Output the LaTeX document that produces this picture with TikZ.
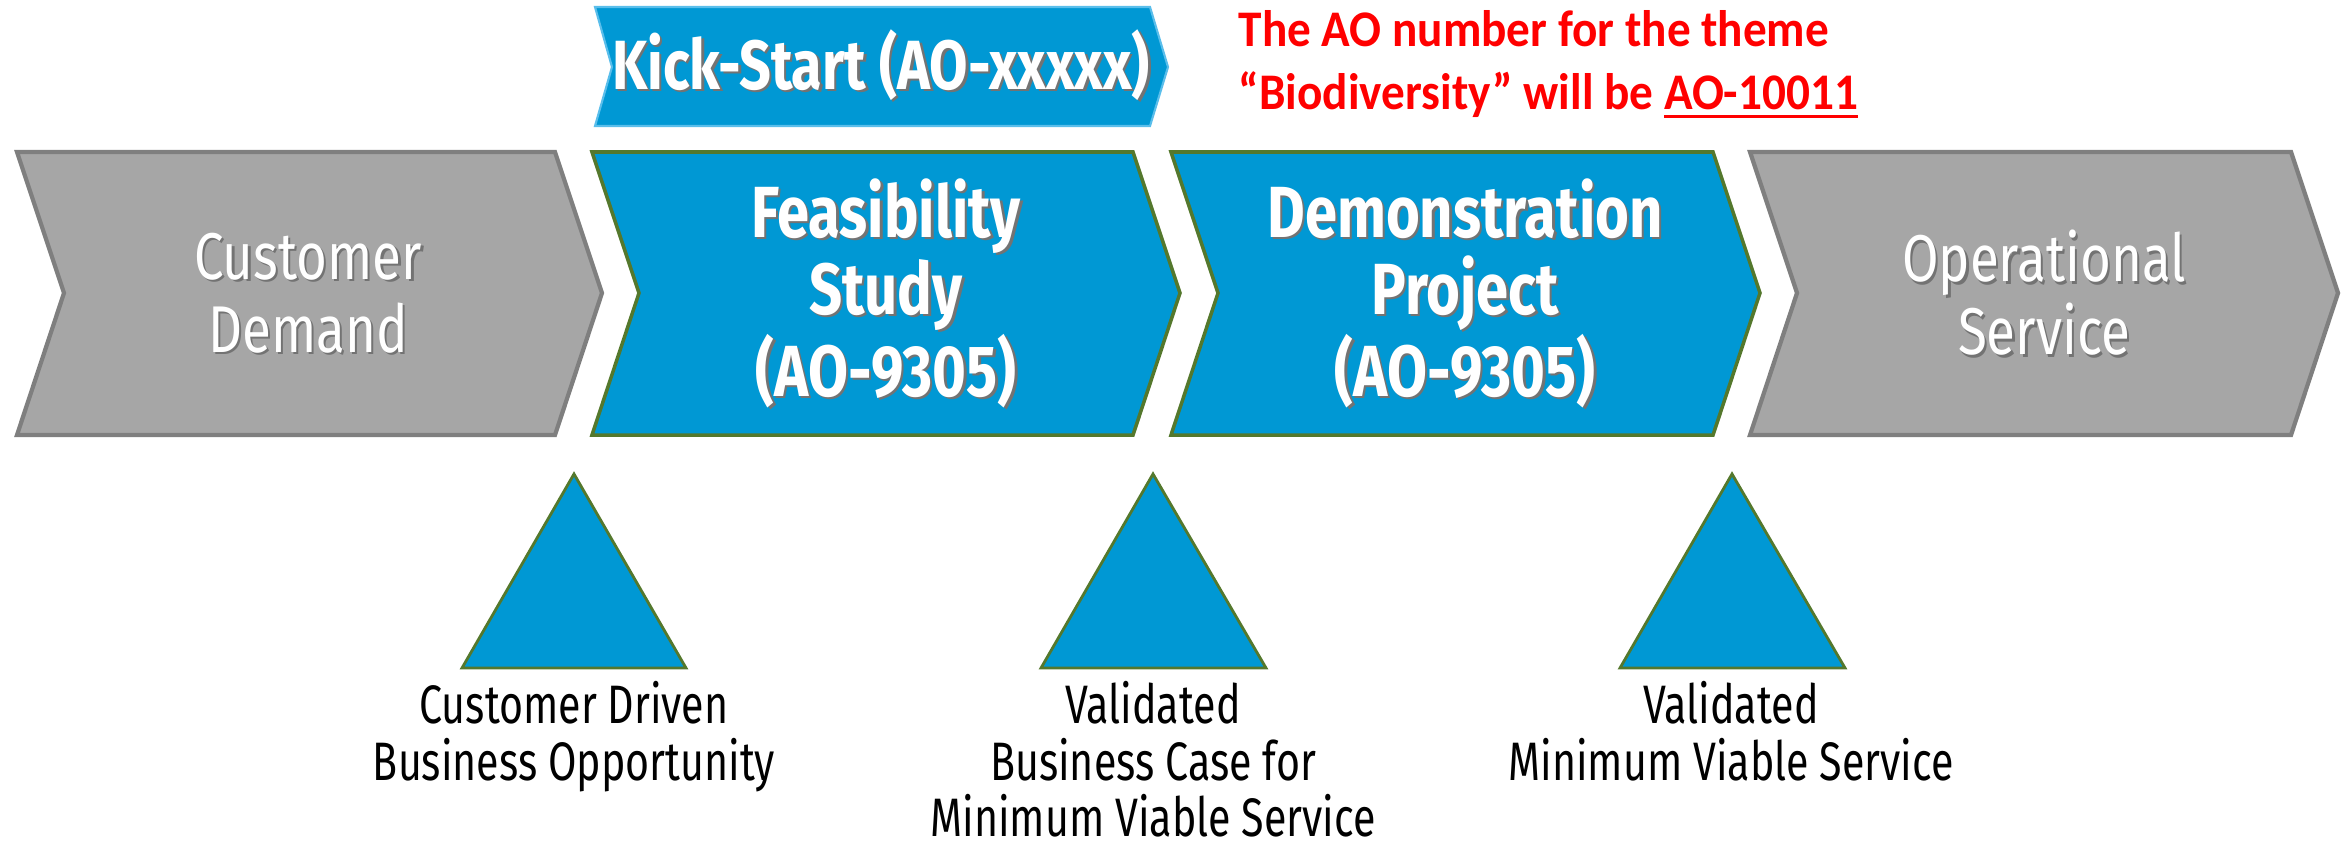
\documentclass[tikz,border=0pt]{standalone}
\usepackage{fontspec}
\setmainfont{Fira Sans}[FakeStretch=0.8]
\newfontfamily\gatefont{Fira Sans}[FakeStretch=0.76]
\newfontfamily\notefont{Carlito}[FakeStretch=0.92]

\definecolor{esablue}{RGB}{0,152,212}
\definecolor{esagreen}{RGB}{84,120,45}
\definecolor{stepgray}{RGB}{166,166,166}
\definecolor{stepgrayline}{RGB}{127,127,127}
\definecolor{kickline}{RGB}{90,190,235}
\definecolor{notered}{RGB}{255,0,0}

\tikzset{
  bluestep/.style={fill=esablue, draw=esagreen, line width=1pt, line join=miter},
  graystep/.style={fill=stepgray, draw=stepgrayline, line width=1.2pt},
  kickstep/.style={fill=esablue, draw=kickline, line width=0.6pt},
  milestone/.style={fill=esablue, draw=esagreen, line width=0.8pt},
  steptext/.style={text=white, align=center, inner sep=0pt, font=\fontsize{18.8}{20.8}\selectfont},
  boldtext/.style={font=\bfseries\fontsize{20.6}{21.9}\selectfont},
  kicktext/.style={font=\bfseries\fontsize{19.8}{21}\selectfont},
  gatetext/.style={align=center, inner sep=0pt, anchor=north, font=\gatefont\fontsize{15.4}{16}\selectfont},
  notetext/.style={text=notered, align=left, inner sep=0pt, anchor=north west, font=\notefont\bfseries\fontsize{14.6}{17.9}\selectfont},
}

% thick underline for the note
\newcommand{\thickunder}[1]{\setbox0\hbox{#1}\rlap{\raisebox{-2.4pt}{\rule{\wd0}{0.9pt}}}\box0}

% white text with a soft drop shadow
\newcommand{\shadetext}[4]{%
  \node[steptext, #3, text=black!55, xshift=0.7pt, yshift=-0.7pt] (#1-s) at (#2) {#4};
  \node[steptext, #3] (#1) at (#2) {#4};
}

\begin{document}
\begin{tikzpicture}[x=0.01cm, y=-0.01cm]
        \useasboundingbox (0,0) rectangle (2346,842);

        % Steps
        \draw[kickstep] (595,7) -- (1150,7) -- (1168,67) -- (1150,126) -- (595,126) -- (612,67) -- cycle;
        \draw[graystep] (17,152) -- (555,152) -- (602,293) -- (555,435) -- (17,435) -- (64,293) -- cycle;
        \draw[bluestep] (592,152) -- (1133,152) -- (1180,293) -- (1133,435) -- (592,435) -- (639,293) -- cycle;
        \draw[bluestep] (1171,152) -- (1713,152) -- (1760,293) -- (1713,435) -- (1171,435) -- (1218,293) -- cycle;
        \draw[graystep] (1750,152) -- (2291,152) -- (2338,293) -- (2291,435) -- (1750,435) -- (1797,293) -- cycle;

        % Milestones
        \draw[milestone] (574,474) -- (686,668) -- (462,668) -- cycle;
        \draw[milestone] (1153,474) -- (1266,668) -- (1041,668) -- cycle;
        \draw[milestone] (1732,474) -- (1845,668) -- (1620,668) -- cycle;

        % Step labels
        \shadetext{kick}{881,65}{kicktext}{Kick-Start (AO-xxxxx)}
        \shadetext{demand}{308,293}{}{Customer\\Demand}
        \shadetext{feas}{886,293}{boldtext}{Feasibility\\Study\\(AO-9305)}
        \shadetext{demo}{1465,293}{boldtext}{Demonstration\\Project\\(AO-9305)}
        \shadetext{oper}{2044,293}{}{Operational\\Service}

        % Milestone labels
        \node[gatetext] (opp) at (574,681) {Customer Driven\\Business Opportunity};
        \node[gatetext] (case) at (1153,681) {Validated\\Business Case for\\Minimum Viable Service};
        \node[gatetext] (mvs) at (1731,681) {Validated\\Minimum Viable Service};

        % Note
        \node[notetext] (note) at (1238,10) {The AO number for the theme\\“Biodiversity” will be \thickunder{AO-10011}};
    \end{tikzpicture}
\end{document}
